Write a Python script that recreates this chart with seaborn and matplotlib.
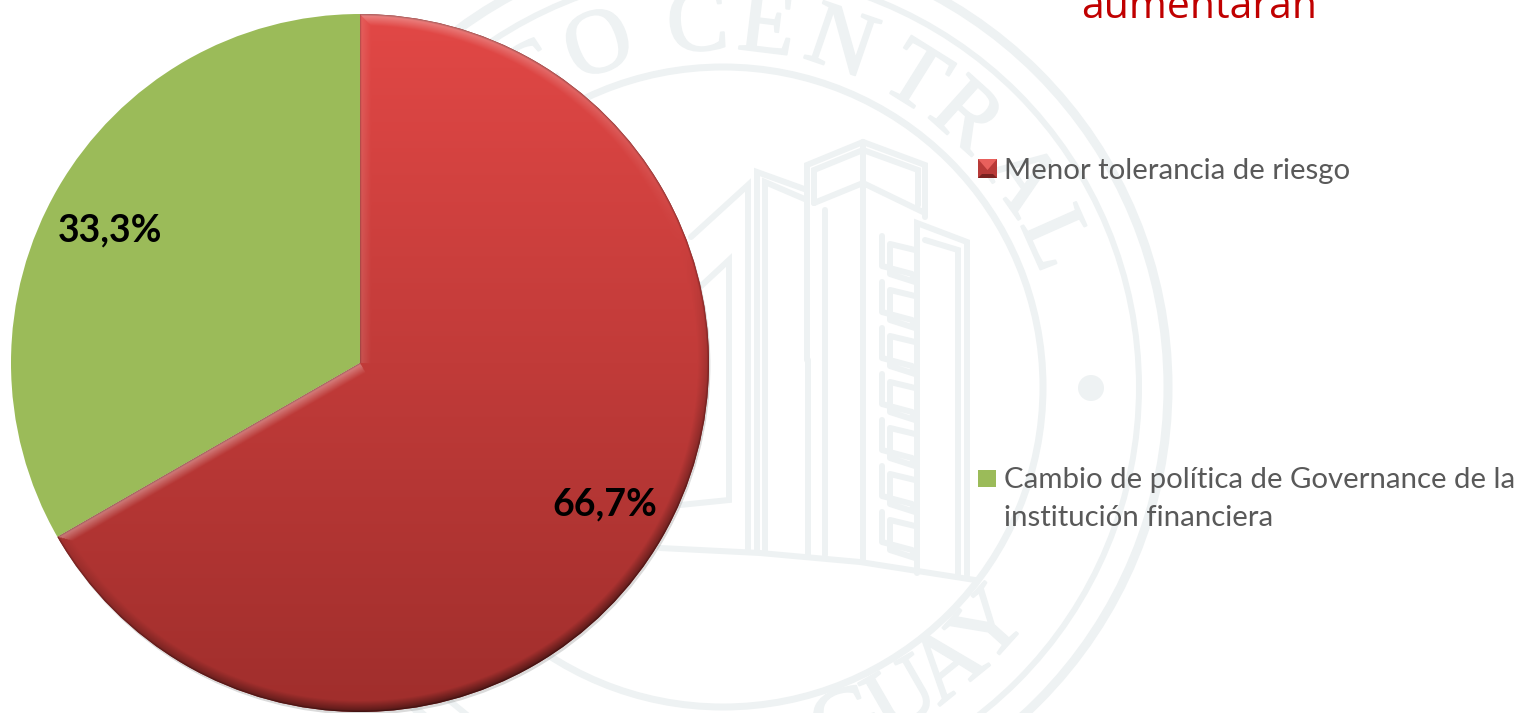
"""plot.py - pie of reasons, with the bank seal as a pale watermark"""
import numpy as np
import seaborn as sns
import matplotlib.pyplot as plt
from matplotlib.patches import Circle, Polygon, Rectangle
from matplotlib import patheffects as pe

categories = ["Menor tolerancia de riesgo", "Cambio de política de Governance de la\ninstitución financiera"]
values = [66.7, 33.3]
title_text = "aumentarán"

RED_TOP = np.array([226, 72, 70]) / 255
RED_BOTTOM = np.array([160, 46, 44]) / 255
GREEN = "#9bbb59"
SEAL = "#eef2f3"
TEXT = "#595959"

# seal letters and where they sit on the ring (degrees)
seal_top = list(zip("COCENTRAL", [122, 110, 94, 83, 71, 58, 48, 35, 24]))
seal_bottom = list(zip("GUAY", [-70, -60, -51, -42]))

sns.set_theme(style="white")
plt.rcParams["font.family"] = ["Lato", "DejaVu Sans"]


def px(p):
    return p * 0.72


def draw_seal(ax):
    cx, cy = 723, 387
    for r, w in [(320, 7), (416, 6), (445, 9)]:
        ax.add_patch(Circle((cx, cy), r, fill=False, ec=SEAL, lw=px(w), zorder=1))
    ax.add_patch(Circle((1091, 388), 13, fc=SEAL, ec="none", zorder=1))

    stroke = [pe.withStroke(linewidth=1.5, foreground=SEAL)]
    for ch, a in seal_top:
        t = np.deg2rad(a)
        ax.text(cx + 360 * np.cos(t), cy - 360 * np.sin(t), ch, rotation=a - 90, rotation_mode="anchor",
                ha="center", va="center", fontsize=66, color=SEAL, family="Liberation Serif", zorder=1,
                path_effects=stroke)
    for ch, a in seal_bottom:
        t = np.deg2rad(a)
        ax.text(cx + 362 * np.cos(t), cy - 362 * np.sin(t), ch, rotation=a + 90, rotation_mode="anchor",
                ha="center", va="center", fontsize=66, color=SEAL, family="Liberation Serif", zorder=1,
                path_effects=stroke)

    # building outline
    lines = [
        [(807, 360), (807, 165), (863, 142), (925, 165), (925, 217)],
        [(863, 142), (863, 560)],
        [(814, 203), (863, 183), (925, 213)],
        [(814, 203), (814, 170), (863, 150), (918, 170), (918, 205)],
        [(757, 550), (757, 172), (807, 190)],
        [(765, 552), (765, 182), (807, 200)],
        [(691, 237), (748, 185), (748, 550)],
        [(700, 287), (729, 260), (729, 500), (680, 505)],
        [(917, 573), (917, 223), (967, 242), (967, 575)],
        [(925, 240), (958, 250), (958, 574)],
        [(825, 555), (825, 210)],
        [(808, 555), (808, 360)],
        [(660, 548), (760, 553), (860, 562), (975, 580)],
    ]
    for pts in lines:
        xs, ys = zip(*pts)
        ax.plot(xs, ys, color=SEAL, lw=px(6), zorder=1, solid_joinstyle="miter")

    # ladder ornament next to the tower
    for y in np.arange(236, 530, 46):
        xs = [882, 882, 912, 915, 890, 890, 915]
        ys = [y, y + 30, y + 38, y + 46, y + 38, y + 8, y + 14]
        ax.plot(xs, ys, color=SEAL, lw=px(6), zorder=1)


def bevel_texture(wedge, n=1000):
    # vertical gradient plus a thin bevel along the wedge edges
    xs, ys = np.meshgrid(np.linspace(-1, 1, n), np.linspace(1, -1, n))
    g = ((1 - ys) / 2)[..., None]
    rgb = RED_TOP * (1 - g) + RED_BOTTOM * g

    r = np.hypot(xs, ys) + 1e-9
    t2 = np.deg2rad(wedge.theta2)  # vertical edge
    t1 = np.deg2rad(wedge.theta1)  # lower left edge
    d_arc = 1 - r
    # the straight edges are rays from the centre, not full lines
    d_a = np.where(xs * np.cos(t2) + ys * np.sin(t2) > 0, np.abs(xs * -np.sin(t2) + ys * np.cos(t2)), 9.0)
    d_b = np.where(xs * np.cos(t1) + ys * np.sin(t1) > 0, np.abs(xs * -np.sin(t1) + ys * np.cos(t1)), 9.0)
    dist = np.stack([d_arc, d_a, d_b])
    nx = np.stack([xs / r, np.full_like(xs, -np.sin(t2)), np.full_like(xs, np.sin(t1))])
    ny = np.stack([ys / r, np.full_like(xs, np.cos(t2)), np.full_like(xs, -np.cos(t1))])
    k = dist.argmin(axis=0)
    d = np.take_along_axis(dist, k[None], 0)[0]
    sx = np.take_along_axis(nx, k[None], 0)[0]
    sy = np.take_along_axis(ny, k[None], 0)[0]

    w = 0.032
    prof = np.clip(1 - d / w, 0, 1)
    light = (sx * -0.35 + sy * 0.94) * prof
    light = light[..., None]
    rgb = np.where(light > 0, rgb + (1 - rgb) * light * 0.38, rgb * (1 + light * 0.5))
    edge = np.clip(1 - d / 0.005, 0, 1)[..., None]
    rgb = rgb * (1 - edge * 0.25)
    return np.clip(rgb, 0, 1)


fig = plt.figure(figsize=(15.25, 7.13), dpi=100, facecolor="white")

bg = fig.add_axes([0, 0, 1, 1])
bg.set_xlim(0, 1525)
bg.set_ylim(713, 0)
bg.axis("off")
draw_seal(bg)

bg.text(1199, 18, title_text, color="#c00000", fontsize=29.5, ha="center", va="baseline", zorder=3,
        family="Open Sans")

# legend, laid out by hand because the second entry wraps
bg.add_patch(Rectangle((978, 159), 19, 19, fc="#b83a38", ec="none", zorder=3))
bg.add_patch(Polygon([(978, 159), (997, 159), (987.5, 170)], fc="#e8605c", ec="none", zorder=3))
bg.add_patch(Polygon([(978, 178), (997, 178), (993, 174), (982, 174)], fc="#7a2220", ec="none", zorder=3))
bg.add_patch(Rectangle((978, 470), 18, 17, fc=GREEN, ec="none", zorder=3))
bg.text(1004, 171, categories[0], color=TEXT, fontsize=21.2, va="center", ha="left", zorder=3)
bg.text(1004, 499, categories[1], color=TEXT, fontsize=21.2, va="center", ha="left", zorder=3, linespacing=1.55)

ax = fig.add_axes([11 / 1525, 1 / 713, 698 / 1525, 698 / 713])
ax.patch.set_visible(False)
wedges, _, autotexts = ax.pie(
    values,
    colors=[tuple(RED_BOTTOM), GREEN],
    startangle=90,
    counterclock=False,
    radius=1,
    autopct=lambda p: f"{p:.1f}%".replace(".", ","),
    pctdistance=0.81,
    wedgeprops={"linewidth": 0, "clip_on": False},
    textprops={"fontsize": 27, "fontweight": "bold", "color": "black"},
)
ax.set_xlim(-1, 1)
ax.set_ylim(-1, 1)

red = wedges[0]
red.set_path_effects([pe.SimplePatchShadow(offset=(1, -2), shadow_rgbFace="#888888", alpha=0.3), pe.Normal()])
im = ax.imshow(bevel_texture(red), extent=(-1, 1, -1, 1), aspect="auto", zorder=wedges[0].get_zorder() + 0.5)
im.set_clip_path(red)
ax.set_xlim(-1, 1)
ax.set_ylim(-1, 1)
for t in autotexts:
    t.set_zorder(5)

# green label sits a little lower than the pie default
gx, gy = autotexts[1].get_position()
autotexts[1].set_position((gx - 0.014, gy - 0.025))

fig.savefig("out.png", dpi=100)
